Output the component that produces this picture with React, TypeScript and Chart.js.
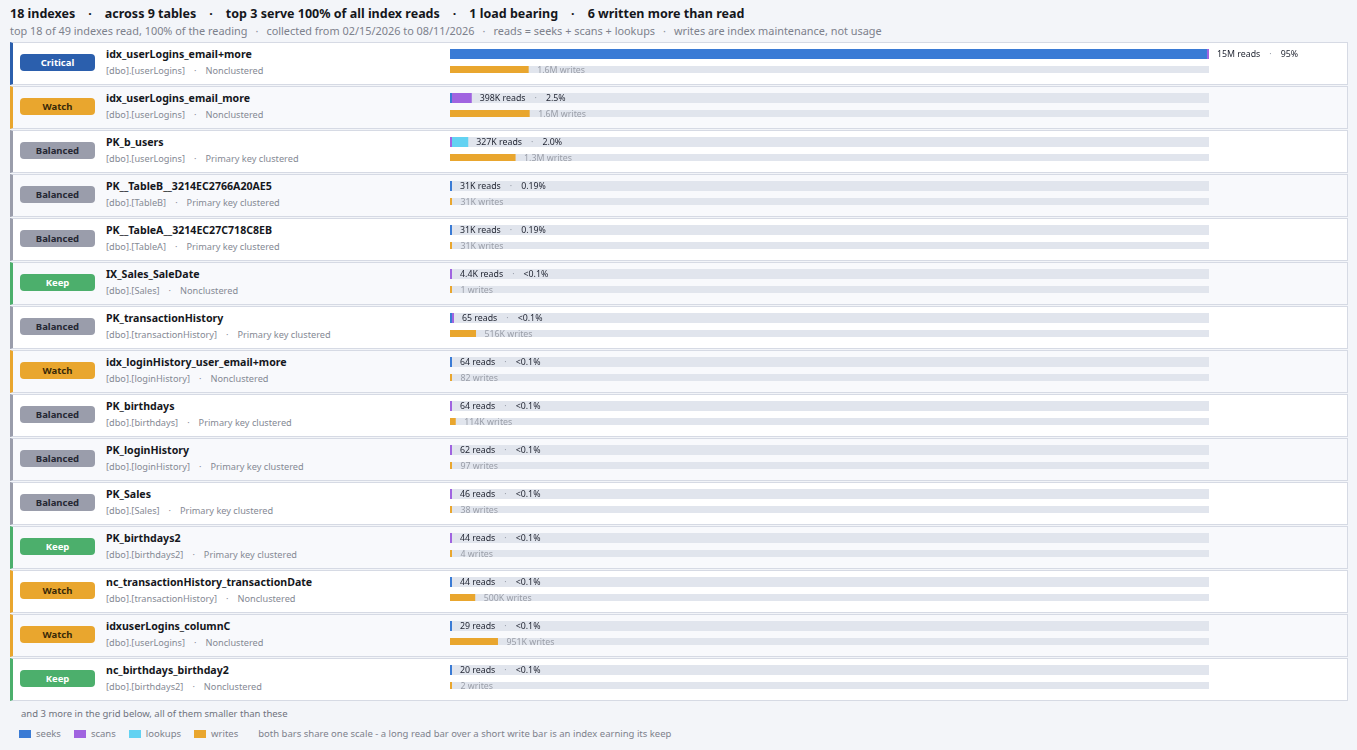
import React, { useEffect, useRef } from 'react';
import { Chart, registerables } from 'chart.js';
Chart.register(...registerables);

const indexNames = [
  'idx_userLogins_email+more',
  'idx_userLogins_email_more',
  'PK_b_users',
  'PK__TableB__3214EC2766A20AE5',
  'PK__TableA__3214EC27C718C8EB',
  'IX_Sales_SaleDate',
  'PK_transactionHistory',
  'idx_loginHistory_user_email+more',
  'PK_birthdays',
  'PK_loginHistory',
  'PK_Sales',
  'PK_birthdays2',
  'nc_transactionHistory_transactionDate',
  'idxuserLogins_columnC',
  'nc_birthdays_birthday2',
];
const tableNames = [
  '[dbo].[userLogins]', '[dbo].[userLogins]', '[dbo].[userLogins]', '[dbo].[TableB]', '[dbo].[TableA]',
  '[dbo].[Sales]', '[dbo].[transactionHistory]', '[dbo].[loginHistory]', '[dbo].[birthdays]', '[dbo].[loginHistory]',
  '[dbo].[Sales]', '[dbo].[birthdays2]', '[dbo].[transactionHistory]', '[dbo].[userLogins]', '[dbo].[birthdays2]',
];
const indexKinds = [
  'Nonclustered', 'Nonclustered', 'Primary key clustered', 'Primary key clustered', 'Primary key clustered',
  'Nonclustered', 'Primary key clustered', 'Nonclustered', 'Primary key clustered', 'Primary key clustered',
  'Primary key clustered', 'Primary key clustered', 'Nonclustered', 'Nonclustered', 'Nonclustered',
];
const verdicts = [
  'Critical', 'Watch', 'Balanced', 'Balanced', 'Balanced', 'Keep', 'Balanced', 'Watch',
  'Balanced', 'Balanced', 'Balanced', 'Keep', 'Watch', 'Watch', 'Keep',
];
const seeks = [15010000, 6000, null, 31000, 31000, null, 40, 64, null, null, null, null, 44, 29, 20];
const scans = [40000, 392000, 5000, null, null, 4400, 25, null, 64, 62, 46, 44, null, null, null];
const lookups = [null, null, 322000, null, null, null, null, null, null, null, null, null, null, null, null];
const writes = [1560000, 1580000, 1300000, 31000, 31000, 1, 516000, 82, 114000, 97, 38, 4, 500000, 951000, 2];

const headlineParts = ['18 indexes', 'across 9 tables', 'top 3 serve 100% of all index reads', '1 load bearing', '6 written more than read'];
const subtitleParts = [
  'top 18 of 49 indexes read, 100% of the reading',
  'collected from 02/15/2026 to 08/11/2026',
  'reads = seeks + scans + lookups',
  'writes are index maintenance, not usage',
];
const legendLabels = ['seeks', 'scans', 'lookups', 'writes'];
const footNote = 'and 3 more in the grid below, all of them smaller than these';
const legendNote = 'both bars share one scale - a long read bar over a short write bar is an index earning its keep';

const FONT = '"Noto Sans", "Open Sans", sans-serif';
const SERIES_COLORS = ['#3a7bd5', '#a064e0', '#62d2f2', '#e9a62e'];
const TRACK = '#e1e5ed';
const VERDICT_STYLE: Record<string, { bg: string; fg: string }> = {
  Critical: { bg: '#2b5fad', fg: '#ffffff' },
  Watch: { bg: '#e9a62e', fg: '#3a2a08' },
  Balanced: { bg: '#9a9dab', fg: '#262833' },
  Keep: { bg: '#4caf6c', fg: '#ffffff' },
};

const ROW_TOP = 42;
const ROW_STEP = 44;

function fmt(n: number): string {
  if (n >= 1e6) { const v = n / 1e6; return (v >= 10 ? String(Math.round(v)) : v.toFixed(1)) + 'M'; }
  if (n >= 1e3) { const v = n / 1e3; return (v >= 10 ? String(Math.round(v)) : v.toFixed(1)) + 'K'; }
  return String(Math.round(n));
}
function pctLabel(p: number): string {
  if (p < 0.1) return '<0.1%';
  if (p >= 10) return Math.floor(p) + '%';
  if (p >= 1) return (Math.floor(p * 10) / 10).toFixed(1) + '%';
  return (Math.floor(p * 100) / 100).toFixed(2) + '%';
}

const readTotals = indexNames.map((_, i) => (seeks[i] || 0) + (scans[i] || 0) + (lookups[i] || 0));
const grandReads = readTotals.reduce((a, b) => a + b, 0);
const scaleMax = Math.max(...readTotals, ...writes);

const barPlugin = {
  id: 'rowBars',
  beforeDatasetsDraw(chart: any) {
    const { ctx, chartArea } = chart;
    ctx.save();
    ctx.fillStyle = TRACK;
    [0, 3].forEach((di) => {
      const meta = chart.getDatasetMeta(di);
      meta.data.forEach((el: any) => {
        const h = el.height;
        ctx.fillRect(chartArea.left, el.y - h / 2, chartArea.right - chartArea.left, h);
      });
    });
    ctx.restore();
  },
  afterDatasetsDraw(chart: any) {
    const { ctx, chartArea } = chart;
    ctx.save();
    ctx.textBaseline = 'middle';
    ctx.font = `8.8px ${FONT}`;
    const readSets = [seeks, scans, lookups];
    indexNames.forEach((_, i) => {
      let end = chartArea.left;
      let y = chart.getDatasetMeta(0).data[i].y;
      readSets.forEach((arr, di) => {
        if (arr[i] != null) {
          const el = chart.getDatasetMeta(di).data[i];
          end = Math.max(end, el.x);
          y = el.y;
        }
      });
      let x = end + 8;
      const main = `${fmt(readTotals[i])} reads`;
      ctx.fillStyle = '#1f2330';
      ctx.fillText(main, x, y + 0.5);
      x += ctx.measureText(main).width + 9;
      ctx.fillStyle = '#9aa0aa';
      ctx.fillText('·', x, y + 0.5);
      x += ctx.measureText('·').width + 9;
      ctx.fillStyle = '#1f2330';
      ctx.fillText(pctLabel((readTotals[i] / grandReads) * 100), x, y + 0.5);

      const wel = chart.getDatasetMeta(3).data[i];
      ctx.fillStyle = '#9a9ea8';
      ctx.fillText(`${fmt(writes[i])} writes`, wel.x + 8.5, wel.y + 0.5);
    });
    ctx.restore();
  },
};

function ChartLayer() {
  const ref = useRef<HTMLCanvasElement | null>(null);
  useEffect(() => {
    if (!ref.current) return;
    const common = { categoryPercentage: 0.705, barPercentage: 1, minBarLength: 2, borderWidth: 0 };
    const chart = new Chart(ref.current, {
      type: 'bar',
      data: {
        labels: indexNames,
        datasets: [
          { label: 'seeks', data: seeks, backgroundColor: SERIES_COLORS[0], stack: 'reads', maxBarThickness: 10, ...common },
          { label: 'scans', data: scans, backgroundColor: SERIES_COLORS[1], stack: 'reads', maxBarThickness: 10, ...common },
          { label: 'lookups', data: lookups, backgroundColor: SERIES_COLORS[2], stack: 'reads', maxBarThickness: 10, ...common },
          { label: 'writes', data: writes, backgroundColor: SERIES_COLORS[3], stack: 'writes', maxBarThickness: 7, ...common },
        ] as any,
      },
      options: {
        indexAxis: 'y',
        responsive: false,
        animation: false,
        devicePixelRatio: 1,
        events: [],
        layout: { padding: { left: 450, right: 148, top: 39.75, bottom: 50.25 } },
        scales: {
          x: { type: 'linear', min: 0, max: scaleMax, stacked: true, display: false },
          y: { type: 'category', stacked: true, display: false },
        },
        plugins: { legend: { display: false }, tooltip: { enabled: false }, title: { display: false } },
      } as any,
      plugins: [barPlugin],
    });
    return () => chart.destroy();
  }, []);
  return (
    <canvas
      ref={ref}
      width={1357}
      height={750}
      style={{ position: 'absolute', left: 0, top: 0, width: 1357, height: 750, pointerEvents: 'none' }}
    />
  );
}

function Dot({ gap }: { gap: number }) {
  return <span style={{ margin: `0 ${gap}px`, color: '#8e929c', fontWeight: 400 }}>·</span>;
}

export default function App() {
  return (
    <div
      style={{
        position: 'absolute', left: 0, top: 0, width: 1357, height: 750, background: '#f3f5f9',
        overflow: 'hidden', fontFamily: FONT,
      }}
    >
      <div style={{ position: 'absolute', left: 10, top: 5, fontSize: 12.5, fontWeight: 700, color: '#15171c', whiteSpace: 'nowrap', lineHeight: '18px' }}>
        {headlineParts.map((p, i) => (
          <React.Fragment key={i}>
            {i > 0 && <span style={{ margin: '0 13px', fontWeight: 700, color: '#15171c' }}>·</span>}
            {p}
          </React.Fragment>
        ))}
      </div>
      <div style={{ position: 'absolute', left: 10, top: 23, fontSize: 10.9, color: '#7d818c', whiteSpace: 'nowrap', lineHeight: '16px' }}>
        {subtitleParts.map((p, i) => (
          <React.Fragment key={i}>
            {i > 0 && <Dot gap={8} />}
            {p}
          </React.Fragment>
        ))}
      </div>

      {indexNames.map((name, i) => {
        const v = VERDICT_STYLE[verdicts[i]];
        return (
          <div
            key={i}
            style={{
              position: 'absolute', left: 10, top: ROW_TOP + i * ROW_STEP, width: 1338, height: 43, boxSizing: 'border-box',
              background: i % 2 === 0 ? '#ffffff' : '#f8f9fc', border: '1px solid #d6dae4', borderLeft: `3px solid ${v.bg}`,
            }}
          >
            <div
              style={{
                position: 'absolute', left: 7, top: 11, width: 75, height: 17, borderRadius: 4, background: v.bg, color: v.fg,
                fontSize: 9.5, fontWeight: 700, textAlign: 'center', lineHeight: '17px',
              }}
            >
              {verdicts[i]}
            </div>
            <div style={{ position: 'absolute', left: 93, top: 3, fontSize: 10.6, fontWeight: 700, color: '#15171c', whiteSpace: 'nowrap', lineHeight: '16px' }}>
              {name}
            </div>
            <div style={{ position: 'absolute', left: 93, top: 21, fontSize: 9.2, color: '#858994', whiteSpace: 'nowrap', lineHeight: '14px' }}>
              {tableNames[i]}
              <Dot gap={9} />
              {indexKinds[i]}
            </div>
          </div>
        );
      })}

      <div style={{ position: 'absolute', left: 21, top: 707, fontSize: 9.5, color: '#6f737d', whiteSpace: 'nowrap', lineHeight: '14px' }}>
        {footNote}
      </div>
      <div style={{ position: 'absolute', left: 19, top: 727, fontSize: 9.5, color: '#7d818c', whiteSpace: 'nowrap', lineHeight: '14px', display: 'flex', alignItems: 'center' }}>
        {legendLabels.map((l, i) => (
          <span key={l} style={{ display: 'inline-flex', alignItems: 'center', marginRight: 13 }}>
            <span style={{ display: 'inline-block', width: 12, height: 8, background: SERIES_COLORS[i], marginRight: 5 }} />
            {l}
          </span>
        ))}
        <span style={{ marginLeft: 7 }}>{legendNote}</span>
      </div>

      <ChartLayer />
    </div>
  );
}
